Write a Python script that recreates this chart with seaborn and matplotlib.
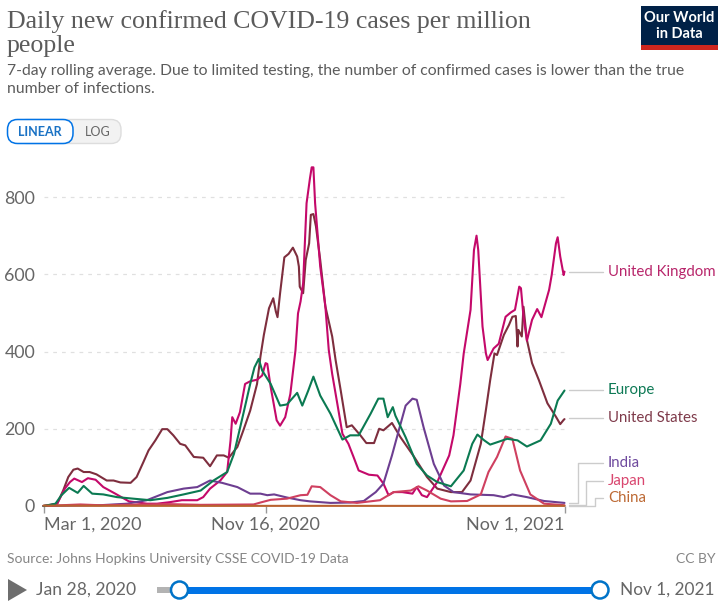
import pandas as pd
import matplotlib.pyplot as plt
import seaborn as sns
from matplotlib.patches import FancyBboxPatch, Rectangle, Polygon, Circle

# days since Mar 1, 2020 and cases per million
start = pd.Timestamp("2020-03-01")

uk_days = [0,16,25,31,36,45,52,61,70,84,100,121,133,148,162,180,187,195,207,215,219,221,225,230,236,242,250,256,260,262,266,273,277,283,289,295,298,301,304,308,312,314,316,318,324,330,334,338,344,350,357,363,369,381,391,398,404,410,420,432,437,443,449,461,475,480,488,492,500,504,507,509,514,518,520,527,533,541,547,552,557,559,562,566,572,578,583,592,595,600,602,605,609,610]
uk_cases = [0,6,45,62,71,62,72,68,49,32,12,6,6,10,15,15,23,45,66,88,170,230,213,243,316,323,327,338,370,368,308,222,208,230,290,403,499,530,577,784,849,877,877,784,620,517,404,342,265,187,161,127,92,81,79,58,28,36,36,32,49,28,23,62,131,183,316,395,508,663,700,663,465,395,378,408,420,490,501,508,568,564,490,428,482,510,489,560,598,680,696,646,598,607]

us_days = [0,8,16,23,29,35,40,47,54,62,74,82,90,102,109,117,123,131,139,145,152,160,166,176,187,195,203,211,217,227,234,242,250,254,258,264,269,272,274,277,282,287,292,297,299,300,304,307,311,313,316,319,324,330,338,342,348,355,361,371,378,387,393,398,408,418,434,449,461,477,490,500,512,518,523,528,531,539,545,549,553,555,556,560,562,566,572,580,590,600,605,609,610]
us_cases = [0,2,6,40,75,94,97,88,88,82,66,66,61,60,75,114,144,170,199,199,183,161,157,127,125,103,131,131,125,153,196,247,316,387,443,512,538,504,489,551,644,653,669,646,620,568,551,637,680,754,756,724,637,517,439,378,299,204,209,183,163,163,200,196,215,178,127,75,45,36,36,66,161,249,326,395,391,443,469,490,492,413,456,439,516,430,370,326,266,231,212,223,225]

europe_days = [0,14,21,30,40,47,57,70,86,105,125,145,164,184,199,215,223,234,242,247,252,256,266,277,285,297,303,310,316,324,336,350,359,369,383,392,398,403,409,412,424,437,449,461,477,492,502,508,516,523,543,555,566,582,594,602,610]
europe_cases = [0,6,28,47,34,52,32,30,23,19,15,21,30,40,66,88,135,239,316,359,381,351,316,260,263,293,260,299,335,286,239,172,183,183,239,278,278,230,256,234,178,109,79,62,51,92,161,185,170,159,174,170,154,170,213,273,299]

india_days = [0,66,98,121,145,164,180,195,209,227,242,254,262,270,285,301,312,336,359,375,389,398,408,416,424,432,437,445,457,469,480,500,527,539,549,566,586,610]
india_cases = [0,2,6,15,36,45,49,66,60,49,32,32,28,30,22,15,12,8,9,13,36,58,131,196,260,278,275,204,109,53,36,30,28,23,30,23,13,8]

japan_days = [0,43,66,145,184,246,254,266,285,301,309,314,324,336,348,367,394,410,430,439,449,465,477,496,512,521,531,541,549,558,570,586,610]
japan_cases = [0,4,2,5,3,4,9,16,19,28,29,51,49,28,12,8,15,36,40,51,40,19,12,13,30,88,127,180,174,92,30,6,2]

china_days = [0,60,200,320,420,520,610]
china_cases = [1,0.5,0.3,0.4,0.3,0.3,0.3]

tick_days = [0, 260, 610]
tick_labels = ["Mar 1, 2020", "Nov 16, 2020", "Nov 1, 2021"]
y_ticks = [0, 200, 400, 600, 800]

colors = {
    "United States": "#7e2e3e",
    "United Kingdom": "#c4096a",
    "India": "#6d3e91",
    "Japan": "#cf4060",
    "Europe": "#0b7a52",
    "China": "#b9622f",
}
label_colors = {
    "United Kingdom": "#b8266b",
    "Europe": "#0f7a56",
    "United States": "#7e3a4a",
    "India": "#6f4a9e",
    "Japan": "#d9466f",
    "China": "#bd6a35",
}

series = [
    ("United States", us_days, us_cases),
    ("United Kingdom", uk_days, uk_cases),
    ("India", india_days, india_cases),
    ("Japan", japan_days, japan_cases),
    ("Europe", europe_days, europe_cases),
    ("China", china_days, china_cases),
]
frames = []
for name, days, cases in series:
    frames.append(pd.DataFrame({
        "date": start + pd.to_timedelta(days, unit="D"),
        "cases": cases,
        "country": name,
    }))
df = pd.concat(frames)

sns.set_theme(style="white")
plt.rcParams["font.family"] = ["Lato", "DejaVu Sans"]

fig = plt.figure(figsize=(7.2, 6.02), dpi=100)
ax = fig.add_axes([43.5 / 720, (602 - 506) / 602, 521 / 720, 346 / 602])

sns.lineplot(data=df, x="date", y="cases", hue="country", hue_order=list(colors),
             palette=colors, legend=False, estimator=None, linewidth=1.5,
             clip_on=False, ax=ax)

ax.set_xlim(start, start + pd.Timedelta(days=610))
ax.set_ylim(0, 896)
ax.set_xlabel("")
ax.set_ylabel("")
sns.despine(ax=ax, left=True, top=True, right=True, bottom=True)

ax.set_yticks(y_ticks)
ax.tick_params(axis="y", length=0, pad=6, labelsize=12.8, labelcolor="#666666")
ax.yaxis.grid(True, color="#e0e0e0", linestyle=(0, (3, 4)), linewidth=0.9)
ax.set_axisbelow(True)

ax.set_xticks(start + pd.to_timedelta(tick_days, unit="D"))
ax.set_xticklabels(tick_labels)
ax.tick_params(axis="x", length=5, width=1, color="#999999", pad=3,
               labelsize=13, labelcolor="#666666", bottom=True)
for lab, ha in zip(ax.get_xticklabels(), ["left", "center", "right"]):
    lab.set_ha(ha)

# overlay in pixel coordinates for header, labels and footer
ov = fig.add_axes([0, 0, 1, 1], zorder=5)
ov.set_xlim(0, 720)
ov.set_ylim(602, 0)
ov.axis("off")
ov.patch.set_alpha(0)

ov.text(7, 28, "Daily new confirmed COVID-19 cases per million", family="Liberation Serif",
        fontsize=18.6, color="#5b5b5b", va="baseline")
ov.text(7, 52, "people", family="Liberation Serif", fontsize=18.6, color="#5b5b5b", va="baseline")
ov.text(7, 75, "7-day rolling average. Due to limited testing, the number of confirmed cases is lower than the true",
        fontsize=11.3, color="#5b5b5b", va="baseline")
ov.text(7, 93, "number of infections.", fontsize=11.3, color="#5b5b5b", va="baseline")

# logo
ov.add_patch(Rectangle((641, 6), 77, 44, color="#002147", lw=0))
ov.add_patch(Rectangle((641, 45), 77, 5, color="#ce261e", lw=0))
ov.text(679.5, 18.5, "Our World", color="white", fontsize=10.5, fontweight="bold", ha="center", va="center")
ov.text(679.5, 34.5, "in Data", color="white", fontsize=10.5, fontweight="bold", ha="center", va="center")

# linear / log switch
ov.add_patch(FancyBboxPatch((17, 119.5), 104, 24, boxstyle="round,pad=0,rounding_size=10",
                            fc="#f2f2f2", ec="#dddddd", lw=1))
ov.add_patch(FancyBboxPatch((7.5, 119.5), 65.5, 24, boxstyle="round,pad=0,rounding_size=10",
                            fc="white", ec="#0073e6", lw=1.1))
ov.text(40, 131.5, "LINEAR", color="#1a72c4", fontsize=9, fontweight="bold", ha="center", va="center")
ov.text(97.5, 131.5, "LOG", color="#666666", fontsize=9, ha="center", va="center")

# end labels with connectors
label_rows = [
    ("United Kingdom", 272, [(569, 272), (603, 272)]),
    ("Europe", 390, [(569, 390), (603, 390)]),
    ("United States", 418, [(569, 418), (603, 418)]),
    ("India", 463, [(569, 503), (578, 503), (578, 463), (603, 463)]),
    ("Japan", 481, [(569, 505), (586, 505), (586, 481), (603, 481)]),
    ("China", 498, [(569, 506), (595, 506), (595, 498), (603, 498)]),
]
for name, y, pts in label_rows:
    ov.plot([p[0] for p in pts], [p[1] for p in pts], color="#cccccc", lw=1)
    ov.text(608, y, name, color=label_colors[name], fontsize=10.8, va="center")

# footer
ov.text(7, 559, "Source: Johns Hopkins University CSSE COVID-19 Data", color="#858585", fontsize=10, va="center")
ov.text(715, 559, "CC BY", color="#858585", fontsize=10, ha="right", va="center")

ov.add_patch(Polygon([(8, 579), (27, 590), (8, 601)], closed=True, color="#6e6e6e", lw=0))
ov.text(36, 590, "Jan 28, 2020", color="#666666", fontsize=12.6, va="center")
ov.text(715, 590, "Nov 1, 2021", color="#666666", fontsize=12.4, ha="right", va="center")
ov.add_patch(Rectangle((157, 587), 24, 6, color="#b3b3b3", lw=0))
ov.add_patch(Rectangle((179, 586.5), 421, 7, color="#0073e6", lw=0))
for cx in [179.5, 600]:
    ov.add_patch(Circle((cx, 590), 8.5, fc="white", ec="#0073c8", lw=1.8, zorder=6))

fig.savefig("out.png", dpi=100)
